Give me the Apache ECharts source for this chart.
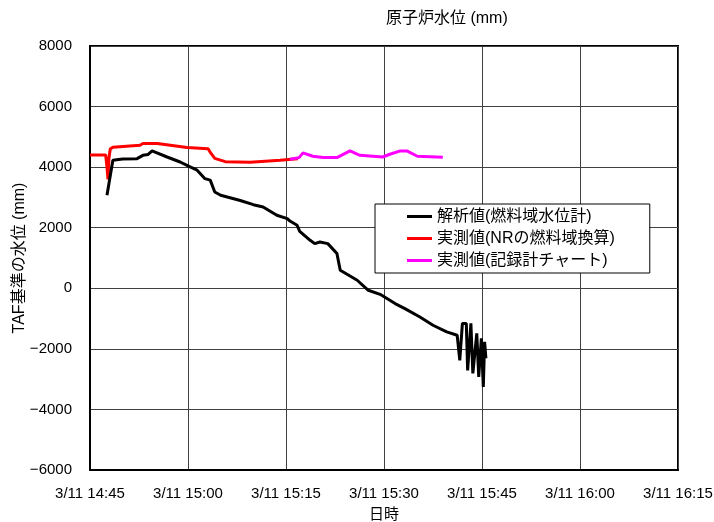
<!DOCTYPE html>
<html><head><meta charset="utf-8">
<script src="https://cdn.jsdelivr.net/npm/echarts@6/dist/echarts.min.js"></script>
<style>html,body{margin:0;padding:0;background:#fff}#c{width:714px;height:522px}</style>
</head><body><div id="c"></div>
<script>
// x values: minutes after 3/11 14:45
const xTickLabels = ["3/11 14:45","3/11 15:00","3/11 15:15","3/11 15:30","3/11 15:45","3/11 16:00","3/11 16:15"];
const seriesNames = ["解析値(燃料域水位計)","実測値(NRの燃料域換算)","実測値(記録計チャート)"];

const analysisT = [2.6,3.5,5.0,7.2,8.1,8.9,9.5,11.8,13.8,15.0,16.4,17.6,18.4,19.1,20.0,23.0,25.0,26.5,28.6,30.2,30.6,31.7,32.1,33.7,34.4,35.2,36.4,37.8,38.3,40.9,42.6,44.4,46.7,48.2,50.5,52.5,54.6,56.2,56.5,56.6,57.0,57.6,57.8,58.3,58.6,59.2,59.5,59.9,60.2,60.4,60.6];
const analysisV = [3070,4226,4270,4280,4390,4420,4535,4335,4170,4040,3900,3620,3570,3180,3070,2900,2760,2685,2410,2300,2220,2080,1880,1585,1475,1530,1475,1145,595,265,-66,-200,-505,-670,-950,-1220,-1440,-1550,-1500,-2380,-1160,-1160,-2710,-1160,-2810,-1490,-2930,-1650,-3260,-1770,-2310];

const nrT = [0,2.4,2.6,2.75,2.9,3.1,3.5,7.65,8.1,10.3,14.85,18.06,18.5,19.1,20.7,24.5,29.1,31.8];
const nrV = [4400,4400,4000,3600,4300,4600,4660,4720,4780,4780,4645,4610,4460,4290,4180,4160,4225,4275];

const chartT = [30.6,32.0,32.6,34.1,35.7,37.8,39.8,41.3,44.8,45.9,47.5,48.5,50.1,54.0];
const chartV = [4260,4315,4470,4360,4315,4315,4535,4390,4335,4425,4535,4535,4360,4330];

const zip = (a,b)=>a.map((t,i)=>[t,b[i]]);
const FONT = "'Liberation Sans','Noto Sans CJK JP',sans-serif";

const chart = echarts.init(document.getElementById('c'));
chart.setOption({
  animation:false,
  backgroundColor:'#fff',
  title:{text:'原子炉水位 (mm)', left:381, top:6, textStyle:{fontSize:16,fontWeight:'normal',color:'#000',fontFamily:FONT}},
  grid:{left:90,right:36,top:46,bottom:52,containLabel:false,outerBoundsMode:'none',show:true,borderColor:'#000',borderWidth:2,backgroundColor:'transparent'},
  legend:{
    orient:'vertical', left:375, top:204,
    backgroundColor:'#fff', borderColor:'#000', borderWidth:1, borderRadius:0,
    padding:[4,35,4,32], itemGap:5, itemWidth:25, itemHeight:3, icon:'rect',
    textStyle:{fontSize:16,color:'#000',fontFamily:FONT,lineHeight:17},
    data:seriesNames
  },
  xAxis:{
    type:'value', min:0, max:90, interval:15,
    name:'日時', nameLocation:'middle', nameGap:37,
    nameTextStyle:{fontSize:15,color:'#000',fontFamily:FONT},
    axisLine:{show:true,onZero:false,lineStyle:{color:'#000',width:2}},
    axisTick:{show:false},
    axisLabel:{fontSize:15,color:'#000',fontFamily:FONT,margin:16,formatter:v=>xTickLabels[Math.round(v/15)]},
    splitLine:{show:true,lineStyle:{color:'#404040',width:1}}
  },
  yAxis:{
    type:'value', min:-6000, max:8000, interval:2000,
    name:'TAF基準の水位 (mm)', nameLocation:'middle', nameGap:62, nameRotate:90, nameMoveOverlap:false,
    nameTextStyle:{fontSize:16,color:'#000',fontFamily:FONT},
    axisLine:{show:true,onZero:false,lineStyle:{color:'#000',width:2}},
    axisTick:{show:false},
    axisLabel:{fontSize:15,color:'#000',fontFamily:FONT,margin:18,formatter:v=>String(v).replace('-','\u2212')},
    splitLine:{show:true,lineStyle:{color:'#404040',width:1}}
  },
  series:[
    {name:seriesNames[0],type:'line',data:zip(analysisT,analysisV),symbol:'none',lineStyle:{color:'#000',width:3},itemStyle:{color:'#000'},z:3},
    {name:seriesNames[1],type:'line',data:zip(nrT,nrV),symbol:'none',lineStyle:{color:'#ff0000',width:3},itemStyle:{color:'#ff0000'},z:2},
    {name:seriesNames[2],type:'line',data:zip(chartT,chartV),symbol:'none',lineStyle:{color:'#ff00ff',width:3},itemStyle:{color:'#ff00ff'},z:2}
  ]
});
</script></body></html>
